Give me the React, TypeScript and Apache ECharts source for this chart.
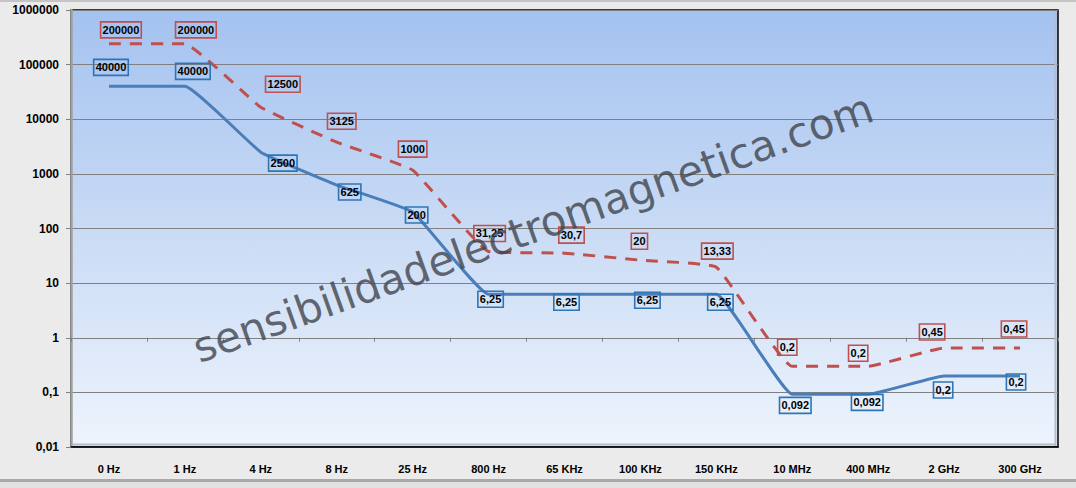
import React, { useEffect, useRef } from "react";
import * as echarts from "echarts";

const categories = ["0 Hz", "1 Hz", "4 Hz", "8 Hz", "25 Hz", "800 Hz", "65 KHz", "100 KHz", "150 KHz", "10 MHz", "400 MHz", "2 GHz", "300 GHz"];
const blueValues = [40000, 40000, 2500, 625, 200, 6.25, 6.25, 6.25, 6.25, 0.092, 0.092, 0.2, 0.2];
const redValues = [240000, 240000, 16600, 3800, 1170, 38, 35.4, 26.3, 19.6, 0.3, 0.3, 0.65, 0.65];
const redLabels = [200000, 200000, 12500, 3125, 1000, 31.25, 30.7, 20, 13.33, 0.2, 0.2, 0.45, 0.45];
const yTicks = [0.01, 0.1, 1, 10, 100, 1000, 10000, 100000, 1000000];

// label offsets (layout only)
const redLabelOffsets = [[12, -14], [11, -14], [22, -23], [5, -21], [0, -21], [1, -18], [7, -18], [-1, -19], [1, -16], [-5, -19], [-10, -13], [-12, -16], [-6, -19]];
const blueLabelOffsets = [[2, -19], [8, -15], [22, 11], [13, 7], [4, 3], [2, 5], [2, 8], [7, 6], [4, 8], [3, 11], [-1, 8], [-1, 14], [-4, 6]];

const fmt = (v: number) => String(v).replace(".", ",");

export default function App() {
  const ref = useRef<HTMLDivElement>(null);
  useEffect(() => {
    const chart = echarts.init(ref.current!, null, { renderer: "svg" });
    const labelBase = {
      show: true,
      position: "inside",
      color: "#000",
      fontFamily: "Liberation Sans",
      fontWeight: "bold",
      fontSize: 11,
      borderWidth: 0.8,
      padding: [3, 2, 2, 2],
      backgroundColor: "transparent",
    };
    chart.setOption({
      animation: false,
      backgroundColor: "#ebebeb",
      grid: {
        left: 71,
        top: 10,
        right: 18,
        bottom: 41,
        show: true,
        borderColor: "#000",
        borderWidth: 1.5,
        backgroundColor: {
          type: "linear",
          x: 0, y: 0, x2: 0, y2: 1,
          colorStops: [
            { offset: 0, color: "#a4c2f0" },
            { offset: 0.5, color: "#c9dbf5" },
            { offset: 1, color: "#eef4fd" },
          ],
        },
      },
      xAxis: [
        {
          type: "category",
          data: categories,
          axisLine: { lineStyle: { color: "#000", width: 1.5 } },
          axisTick: { show: false },
          axisLabel: { color: "#000", fontFamily: "Liberation Sans", fontWeight: "bold", fontSize: 11, margin: 16, interval: 0 },
        },
        {
          type: "category",
          data: categories,
          position: "bottom",
          offset: -109.3,
          axisLine: { show: false },
          axisTick: { show: true, length: 4, lineStyle: { color: "#808080" } },
          axisLabel: { show: false },
        },
      ],
      yAxis: {
        type: "log",
        logBase: 10,
        min: 0.01,
        max: 1000000,
        axisLine: { show: true, lineStyle: { color: "#a0a0a0", width: 2.5 } },
        axisTick: { show: true, length: 5, lineStyle: { color: "#808080" } },
        splitLine: { show: true, lineStyle: { color: "#808080", width: 1 } },
        axisLabel: {
          color: "#000",
          fontFamily: "Liberation Sans",
          fontWeight: "bold",
          fontSize: 12,
          margin: 12,
          formatter: (v: number) => {
            const t = yTicks.find((k) => Math.abs(Math.log10(k) - Math.log10(v)) < 1e-6);
            return fmt(t !== undefined ? t : v);
          },
        },
      },
      graphic: [
        { type: "rect", shape: { x: 0, y: 0, width: 1076, height: 2 }, style: { fill: "#c4c4c4" }, z: 10 },
        { type: "rect", shape: { x: 0, y: 479, width: 1076, height: 3 }, style: { fill: "#a9a9a9" }, z: 10 },
        { type: "rect", shape: { x: 0, y: 482, width: 1076, height: 6 }, style: { fill: "#e2e2e2" }, z: 10 },
        { type: "line", shape: { x1: 73, y1: 444.5, x2: 1056, y2: 444.5 }, style: { stroke: "#b4bccb", lineWidth: 2 }, z: 1 },
        { type: "line", shape: { x1: 1055.5, y1: 11, x2: 1055.5, y2: 446 }, style: { stroke: "#b4bccb", lineWidth: 2 }, z: 1 },
        {
          type: "text",
          x: 533,
          y: 228,
          rotation: 0.345,
          z: 100,
          style: {
            text: "sensibilidadelectromagnetica.com",
            fontFamily: "DejaVu Sans",
            fontSize: 42,
            fill: "rgba(62,66,74,0.78)",
            align: "center",
            verticalAlign: "middle",
          },
        },
      ],
      series: [
        {
          name: "Rojo",
          type: "line",
          data: redValues.map((v, i) => ({
            value: v,
            label: { offset: redLabelOffsets[i], formatter: fmt(redLabels[i]) },
          })),
          smooth: 0.1,
          symbol: "circle",
          symbolSize: 1,
          showSymbol: true,
          itemStyle: { color: "rgba(0,0,0,0)" },
          lineStyle: { color: "#c0504d", width: 3, type: [12, 9] },
          label: { ...labelBase, borderColor: "#c0504d" },
          z: 3,
        },
        {
          name: "Azul",
          type: "line",
          data: blueValues.map((v, i) => ({
            value: v,
            label: { offset: blueLabelOffsets[i], formatter: fmt(v) },
          })),
          smooth: 0.1,
          symbol: "circle",
          symbolSize: 1,
          showSymbol: true,
          itemStyle: { color: "rgba(0,0,0,0)" },
          lineStyle: { color: "#4a7ebb", width: 3 },
          label: { ...labelBase, borderColor: "#2e75b6" },
          z: 4,
        },
      ],
    });
    return () => chart.dispose();
  }, []);
  return <div ref={ref} style={{ position: "fixed", left: 0, top: 0, width: 1076, height: 488 }} />;
}
